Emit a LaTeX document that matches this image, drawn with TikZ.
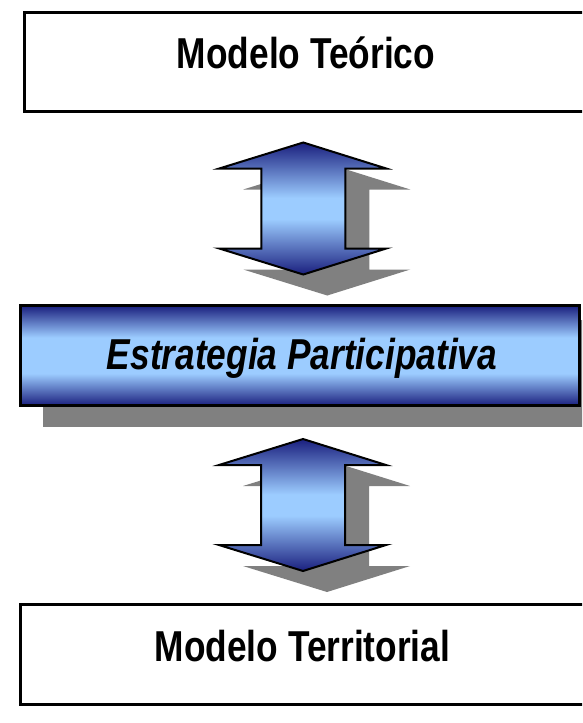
\documentclass[tikz,border=0pt]{standalone}
\usepackage{fontspec}
\setmainfont{Liberation Sans}
\usepackage{graphicx}
\usetikzlibrary{calc}
\definecolor{navyc}{HTML}{1A1F7E}
\definecolor{lightc}{HTML}{9CCCFF}
\definecolor{shadowc}{HTML}{808080}
\pgfdeclareverticalshading{blueband}{100bp}{color(0bp)=(navyc); color(25bp)=(navyc); color(41bp)=(lightc); color(59bp)=(lightc); color(75bp)=(navyc); color(100bp)=(navyc)}
\pgfdeclareverticalshading{arrowband}{100bp}{color(0bp)=(navyc); color(25bp)=(navyc); color(46bp)=(lightc); color(54bp)=(lightc); color(75bp)=(navyc); color(100bp)=(navyc)}
\newcommand\twowayarrow[1]{%
  (0,-66) -- (83,-40) -- (42,-40) -- (42,40) -- (83,40) -- (0,66) -- (-84,40) -- (-42,40) -- (-42,-40) -- (-84,-40) -- cycle}
\begin{document}
\begin{tikzpicture}[x=1pt,y=-1pt,
  whitebox/.style={draw=black, line width=3pt, fill=white, rectangle, inner sep=0pt},
  bluebox/.style={draw=black, line width=3pt, shading=blueband, rectangle, inner sep=0pt},
  shadowfill/.style={fill=shadowc, draw=none},
  arrowshape/.style={draw=black, line width=2pt, line join=miter, shading=arrowband},
  labeltext/.style={inner sep=0pt, anchor=base, font=\fontsize{42}{50}\selectfont\bfseries}
]
\useasboundingbox (0,0) rectangle (582,723);
\clip (0,0) rectangle (582,723);
\fill[white] (0,0) rectangle (582,723);

% boxes
\node[whitebox, minimum width=565, minimum height=99] (mt) at (306.5,62) {};
\fill[shadowc] (43,320) rectangle (610,427);
\node[bluebox, minimum width=559, minimum height=100] (ep) at (300,355.5) {};
\node[whitebox, minimum width=571, minimum height=100] (mterr) at (306,654.5) {};

% texts
\node[labeltext] (t1) at (306,68) {\scalebox{0.84}[1.03]{Modelo Teórico}};
\node[labeltext] (t2) at (302,369) {\scalebox{0.84}[1.03]{\itshape Estrategia Participativa}};
\node[labeltext] (t3) at (302.5,661) {\scalebox{0.84}[1.03]{Modelo Territorial}};

% arrow centres between the boxes
\coordinate (c1) at ($(mt.south)!0.5!(ep.north)$);
\coordinate (c2) at ($(ep.south)!0.5!(mterr.north)$);

\begin{scope}[shift={($(c1)+(24,21)$)}]
  \path[shadowfill] \twowayarrow{};
\end{scope}
\begin{scope}[shift={(c1)}]
  \path[arrowshape] \twowayarrow{};
\end{scope}
\begin{scope}[shift={($(c2)+(24,21)$)}]
  \path[shadowfill] \twowayarrow{};
\end{scope}
\begin{scope}[shift={(c2)}]
  \path[arrowshape] \twowayarrow{};
\end{scope}
\end{tikzpicture}
\end{document}
